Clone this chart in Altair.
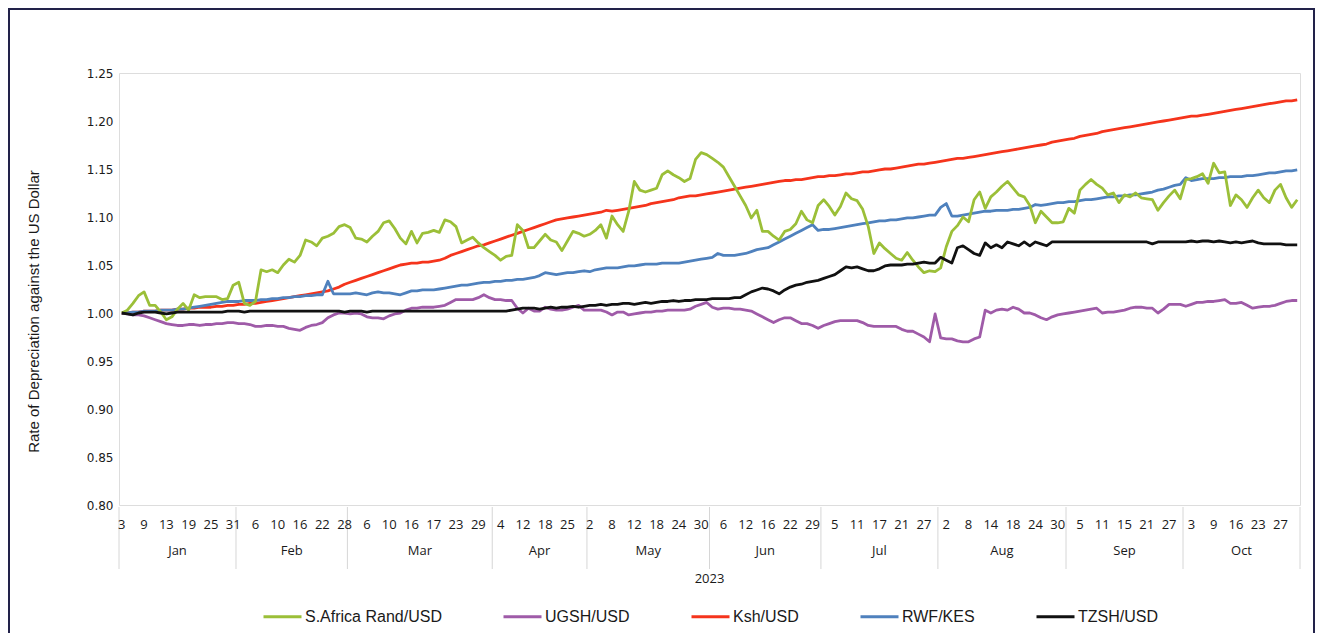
import altair as alt
import pandas as pd

series_names = ["S.Africa Rand/USD", "UGSH/USD", "Ksh/USD", "RWF/KES", "TZSH/USD"]
series_colors = ["#9bbf38", "#9f5ba8", "#f5341c", "#4f81bd", "#111111"]
draw_order = ["UGSH/USD", "Ksh/USD", "RWF/KES", "S.Africa Rand/USD", "TZSH/USD"]

day_labels = ['3', '9', '13', '19', '25', '31', '6', '10', '16', '22', '28', '6', '10', '16', '17', '23', '29',
              '4', '12', '18', '25', '2', '8', '12', '18', '24', '30', '6', '12', '16', '22', '29',
              '5', '11', '17', '21', '27', '2', '8', '14', '18', '24', '30', '5', '11', '15', '21', '27',
              '3', '9', '16', '23', '27']
day_label_idx = [i * 4 for i in range(len(day_labels))]
month_names = ["Jan", "Feb", "Mar", "Apr", "May", "Jun", "Jul", "Aug", "Sep", "Oct"]
month_start_idx = [0, 21, 41, 67, 84, 106, 126, 147, 170, 191]
month_end_idx = [20, 40, 66, 83, 105, 125, 146, 169, 190, 211]
year_label = "2023"
y_ticks = [0.80, 0.85, 0.90, 0.95, 1.00, 1.05, 1.10, 1.15, 1.20, 1.25]

rand_usd = [
    1.000, 1.003, 1.010, 1.018, 1.022, 1.008, 1.008, 1.001, 0.993, 0.996,
    1.004, 1.010, 1.003, 1.019, 1.016, 1.017, 1.017, 1.017, 1.014, 1.015,
    1.029, 1.032, 1.010, 1.008, 1.012, 1.045, 1.043, 1.045, 1.042, 1.050,
    1.056, 1.053, 1.060, 1.076, 1.074, 1.070, 1.078, 1.080, 1.083, 1.090,
    1.092, 1.089, 1.078, 1.077, 1.074, 1.080, 1.085, 1.094, 1.096, 1.088,
    1.078, 1.072, 1.085, 1.073, 1.083, 1.084, 1.086, 1.084, 1.097, 1.095,
    1.090, 1.073, 1.076, 1.079, 1.073, 1.068, 1.064, 1.060, 1.055, 1.059,
    1.060, 1.092, 1.086, 1.068, 1.068, 1.075, 1.082, 1.076, 1.074, 1.065,
    1.075, 1.085, 1.083, 1.080, 1.082, 1.086, 1.092, 1.078, 1.101, 1.092,
    1.085, 1.106, 1.137, 1.128, 1.126, 1.128, 1.130, 1.144, 1.148, 1.144,
    1.141, 1.137, 1.140, 1.160, 1.167, 1.165, 1.161, 1.157, 1.152, 1.142,
    1.132, 1.122, 1.112, 1.099, 1.107, 1.085, 1.085, 1.080, 1.076, 1.085,
    1.087, 1.093, 1.106, 1.097, 1.094, 1.112, 1.118, 1.111, 1.102, 1.111,
    1.125, 1.119, 1.117, 1.108, 1.090, 1.062, 1.073, 1.067, 1.062, 1.057,
    1.055, 1.063, 1.055, 1.048, 1.042, 1.044, 1.043, 1.047, 1.069, 1.085,
    1.091, 1.100, 1.095, 1.118, 1.126, 1.109, 1.121, 1.126, 1.132, 1.137,
    1.130, 1.123, 1.121, 1.112, 1.094, 1.106, 1.100, 1.094, 1.094, 1.095,
    1.109, 1.104, 1.128, 1.134, 1.139, 1.134, 1.130, 1.123, 1.125, 1.115,
    1.123, 1.121, 1.125, 1.120, 1.119, 1.118, 1.107, 1.115, 1.122, 1.128,
    1.119, 1.139, 1.140, 1.142, 1.145, 1.135, 1.156, 1.146, 1.147, 1.112,
    1.123, 1.118, 1.110, 1.120, 1.128, 1.120, 1.115, 1.128, 1.134, 1.120,
    1.110, 1.118]

ugsh_usd = [
    1.000, 0.999, 0.998, 0.998, 0.997, 0.995, 0.993, 0.991, 0.989, 0.988,
    0.987, 0.987, 0.988, 0.988, 0.987, 0.988, 0.988, 0.989, 0.989, 0.990,
    0.990, 0.989, 0.989, 0.988, 0.986, 0.986, 0.987, 0.987, 0.986, 0.986,
    0.984, 0.983, 0.982, 0.985, 0.987, 0.988, 0.990, 0.995, 0.998, 1.000,
    1.000, 0.999, 1.000, 0.999, 0.996, 0.995, 0.995, 0.994, 0.997, 0.999,
    1.000, 1.003, 1.005, 1.005, 1.006, 1.006, 1.006, 1.007, 1.008, 1.011,
    1.014, 1.014, 1.014, 1.014, 1.016, 1.019, 1.016, 1.014, 1.014, 1.013,
    1.013, 1.005, 1.000, 1.005, 1.002, 1.002, 1.006, 1.004, 1.003, 1.003,
    1.004, 1.006, 1.008, 1.003, 1.003, 1.003, 1.003, 1.001, 0.998, 1.001,
    1.001, 0.998, 0.999, 1.000, 1.001, 1.001, 1.002, 1.002, 1.003, 1.003,
    1.003, 1.003, 1.004, 1.007, 1.009, 1.011, 1.006, 1.004, 1.005, 1.005,
    1.004, 1.004, 1.003, 1.002, 0.999, 0.996, 0.993, 0.990, 0.993, 0.995,
    0.995, 0.992, 0.989, 0.989, 0.987, 0.984, 0.987, 0.989, 0.991, 0.992,
    0.992, 0.992, 0.992, 0.990, 0.987, 0.986, 0.986, 0.986, 0.986, 0.986,
    0.983, 0.981, 0.981, 0.978, 0.975, 0.970, 0.999, 0.974, 0.973, 0.973,
    0.971, 0.970, 0.970, 0.973, 0.975, 1.003, 1.000, 1.003, 1.004, 1.003,
    1.006, 1.004, 1.000, 1.000, 0.998, 0.995, 0.993, 0.996, 0.998, 0.999,
    1.000, 1.001, 1.002, 1.003, 1.004, 1.005, 1.000, 1.001, 1.001, 1.002,
    1.003, 1.005, 1.006, 1.006, 1.005, 1.005, 1.000, 1.004, 1.009, 1.009,
    1.009, 1.007, 1.009, 1.011, 1.011, 1.012, 1.012, 1.013, 1.014, 1.010,
    1.010, 1.011, 1.008, 1.005, 1.006, 1.007, 1.007, 1.008, 1.010, 1.012,
    1.013, 1.013]

ksh_usd = [
    1.000, 1.000, 1.001, 1.001, 1.002, 1.002, 1.002, 1.003, 1.003, 1.003,
    1.004, 1.004, 1.005, 1.005, 1.006, 1.006, 1.006, 1.007, 1.007, 1.008,
    1.008, 1.009, 1.009, 1.010, 1.010, 1.011, 1.012, 1.013, 1.014, 1.015,
    1.016, 1.017, 1.018, 1.019, 1.020, 1.021, 1.022, 1.023, 1.025, 1.027,
    1.030, 1.032, 1.034, 1.036, 1.038, 1.040, 1.042, 1.044, 1.046, 1.048,
    1.050, 1.051, 1.052, 1.052, 1.053, 1.053, 1.054, 1.055, 1.057, 1.060,
    1.062, 1.064, 1.066, 1.068, 1.070, 1.071, 1.073, 1.075, 1.077, 1.079,
    1.081, 1.083, 1.085, 1.087, 1.089, 1.091, 1.093, 1.095, 1.097, 1.098,
    1.099, 1.100, 1.101, 1.102, 1.103, 1.104, 1.105, 1.107, 1.106, 1.107,
    1.108, 1.109, 1.110, 1.111, 1.112, 1.114, 1.115, 1.116, 1.117, 1.118,
    1.120, 1.121, 1.122, 1.122, 1.123, 1.124, 1.125, 1.126, 1.127, 1.128,
    1.129, 1.130, 1.131, 1.132, 1.133, 1.134, 1.135, 1.136, 1.137, 1.138,
    1.138, 1.139, 1.139, 1.140, 1.141, 1.142, 1.142, 1.143, 1.143, 1.144,
    1.145, 1.145, 1.146, 1.147, 1.147, 1.148, 1.149, 1.150, 1.150, 1.151,
    1.152, 1.153, 1.154, 1.155, 1.155, 1.156, 1.157, 1.158, 1.159, 1.160,
    1.161, 1.161, 1.162, 1.163, 1.164, 1.165, 1.166, 1.167, 1.168, 1.169,
    1.170, 1.171, 1.172, 1.173, 1.174, 1.175, 1.176, 1.178, 1.179, 1.180,
    1.181, 1.182, 1.184, 1.185, 1.186, 1.187, 1.189, 1.190, 1.191, 1.192,
    1.193, 1.194, 1.195, 1.196, 1.197, 1.198, 1.199, 1.200, 1.201, 1.202,
    1.203, 1.204, 1.205, 1.205, 1.206, 1.207, 1.208, 1.209, 1.210, 1.211,
    1.212, 1.213, 1.214, 1.215, 1.216, 1.217, 1.218, 1.219, 1.220, 1.221,
    1.221, 1.222]

rwf_kes = [
    1.000, 1.000, 1.001, 1.001, 1.002, 1.002, 1.002, 1.003, 1.003, 1.003,
    1.004, 1.004, 1.005, 1.006, 1.007, 1.008, 1.009, 1.010, 1.011, 1.012,
    1.012, 1.012, 1.013, 1.013, 1.013, 1.014, 1.014, 1.015, 1.015, 1.016,
    1.016, 1.017, 1.017, 1.018, 1.018, 1.019, 1.019, 1.033, 1.020, 1.020,
    1.020, 1.020, 1.021, 1.020, 1.019, 1.021, 1.022, 1.021, 1.021, 1.020,
    1.019, 1.021, 1.023, 1.023, 1.024, 1.024, 1.024, 1.025, 1.026, 1.027,
    1.028, 1.029, 1.029, 1.030, 1.031, 1.032, 1.032, 1.033, 1.033, 1.034,
    1.034, 1.035, 1.035, 1.036, 1.037, 1.039, 1.042, 1.041, 1.040, 1.041,
    1.042, 1.042, 1.043, 1.044, 1.043, 1.045, 1.046, 1.047, 1.047, 1.047,
    1.048, 1.049, 1.049, 1.050, 1.051, 1.051, 1.051, 1.052, 1.052, 1.052,
    1.052, 1.053, 1.054, 1.055, 1.056, 1.057, 1.058, 1.062, 1.060, 1.060,
    1.060, 1.061, 1.062, 1.064, 1.066, 1.067, 1.068, 1.071, 1.074, 1.077,
    1.080, 1.083, 1.086, 1.089, 1.092, 1.086, 1.087, 1.087, 1.088, 1.089,
    1.090, 1.091, 1.092, 1.093, 1.094, 1.095, 1.096, 1.096, 1.097, 1.097,
    1.098, 1.099, 1.099, 1.100, 1.101, 1.102, 1.102, 1.110, 1.114, 1.101,
    1.101, 1.102, 1.103, 1.104, 1.105, 1.106, 1.106, 1.107, 1.107, 1.107,
    1.108, 1.108, 1.109, 1.110, 1.113, 1.112, 1.113, 1.114, 1.115, 1.115,
    1.116, 1.116, 1.117, 1.118, 1.118, 1.119, 1.120, 1.121, 1.121, 1.122,
    1.122, 1.123, 1.123, 1.124, 1.125, 1.126, 1.128, 1.129, 1.131, 1.133,
    1.134, 1.141, 1.138, 1.139, 1.140, 1.140, 1.140, 1.141, 1.141, 1.142,
    1.142, 1.142, 1.143, 1.143, 1.144, 1.145, 1.146, 1.146, 1.147, 1.148,
    1.148, 1.149]

tzsh_usd = [
    1.000, 0.999, 0.998, 1.000, 1.001, 1.001, 1.001, 1.000, 0.999, 1.000,
    1.001, 1.001, 1.001, 1.001, 1.001, 1.001, 1.001, 1.001, 1.001, 1.002,
    1.002, 1.002, 1.001, 1.002, 1.002, 1.002, 1.002, 1.002, 1.002, 1.002,
    1.002, 1.002, 1.002, 1.002, 1.002, 1.002, 1.002, 1.002, 1.002, 1.002,
    1.001, 1.002, 1.002, 1.002, 1.001, 1.002, 1.002, 1.002, 1.002, 1.002,
    1.002, 1.002, 1.002, 1.002, 1.002, 1.002, 1.002, 1.002, 1.002, 1.002,
    1.002, 1.002, 1.002, 1.002, 1.002, 1.002, 1.002, 1.002, 1.002, 1.002,
    1.003, 1.004, 1.005, 1.005, 1.005, 1.004, 1.005, 1.006, 1.005, 1.006,
    1.006, 1.007, 1.006, 1.007, 1.008, 1.008, 1.009, 1.008, 1.009, 1.009,
    1.010, 1.010, 1.009, 1.010, 1.011, 1.010, 1.011, 1.012, 1.012, 1.013,
    1.012, 1.013, 1.013, 1.014, 1.014, 1.014, 1.015, 1.015, 1.015, 1.015,
    1.016, 1.016, 1.019, 1.022, 1.024, 1.026, 1.025, 1.023, 1.020, 1.024,
    1.027, 1.029, 1.030, 1.032, 1.033, 1.034, 1.036, 1.038, 1.040, 1.044,
    1.048, 1.047, 1.048, 1.046, 1.044, 1.044, 1.046, 1.049, 1.050, 1.050,
    1.050, 1.051, 1.051, 1.052, 1.053, 1.052, 1.052, 1.058, 1.055, 1.052,
    1.068, 1.070, 1.066, 1.062, 1.060, 1.073, 1.068, 1.071, 1.068, 1.074,
    1.072, 1.070, 1.074, 1.070, 1.074, 1.072, 1.070, 1.074, 1.074, 1.074,
    1.074, 1.074, 1.074, 1.074, 1.074, 1.074, 1.074, 1.074, 1.074, 1.074,
    1.074, 1.074, 1.074, 1.074, 1.074, 1.072, 1.074, 1.074, 1.074, 1.074,
    1.074, 1.074, 1.075, 1.074, 1.075, 1.075, 1.074, 1.075, 1.074, 1.073,
    1.074, 1.073, 1.074, 1.075, 1.073, 1.072, 1.072, 1.072, 1.072, 1.071,
    1.071, 1.071]

all_series = [rand_usd, ugsh_usd, ksh_usd, rwf_kes, tzsh_usd]

# ---- tables ----
rows = []
for name in draw_order:
    vals = all_series[series_names.index(name)]
    for i, v in enumerate(vals):
        rows.append({"idx": i, "value": v, "series": name})
df = pd.DataFrame(rows)

n_points = len(rand_usd)
days_df = pd.DataFrame({"idx": day_label_idx, "label": day_labels})
months_df = pd.DataFrame({
    "month": month_names,
    "mid": [(s + e) / 2 for s, e in zip(month_start_idx, month_end_idx)],
})
bounds_df = pd.DataFrame({"b": [month_start_idx[0] - 0.5] + [e + 0.5 for e in month_end_idx]})

W, H = 1181, 432
PAD_L, PAD_T, PAD_R, PAD_B = 111, 65, 16, 128
x_scale = alt.Scale(domain=[-0.5, n_points - 0.5], nice=False, zero=False)
y_scale = alt.Scale(domain=[0.80, 1.25], nice=False, zero=False)
color_scale = alt.Scale(domain=series_names, range=series_colors)

legend = alt.Legend(title=None, orient="none", legendX=143, legendY=523,
                    direction="horizontal", symbolType="stroke",
                    symbolSize=1444, symbolStrokeWidth=3,
                    labelFont="Liberation Sans", labelFontSize=16,
                    labelColor="#1a1a1a", labelOffset=2, columnPadding=55)

y_axis = alt.Axis(values=y_ticks, format=".2f", grid=False, ticks=False, domain=False,
                  labelFont="DejaVu Sans", labelFontSize=12, labelColor="#1a1a1a",
                  labelPadding=6,
                  title="Rate of Depreciation against the US Dollar",
                  titleFont="Liberation Sans", titleFontSize=15,
                  titleFontWeight="normal", titleColor="#1a1a1a",
                  titleAngle=-90, titleX=-86, titleY=238,
                  titleAlign="center", titleBaseline="middle")

lines = alt.Chart(df).mark_line(strokeWidth=2.8, strokeJoin="round").encode(
    x=alt.X("idx:Q", scale=x_scale, axis=None),
    y=alt.Y("value:Q", scale=y_scale, axis=y_axis),
    color=alt.Color("series:N", scale=color_scale, legend=legend),
)

day_text = alt.Chart(days_df).mark_text(
    font="Open Sans", fontSize=13, color="#1a1a1a", baseline="middle"
).encode(
    x=alt.X("idx:Q", scale=x_scale, axis=None),
    y=alt.value(H + 20),
    text="label:N",
)

seps = alt.Chart(bounds_df).mark_rule(color="#d6d6d6", strokeWidth=1).encode(
    x=alt.X("b:Q", scale=x_scale, axis=None),
    y=alt.value(H + 2),
    y2=alt.value(H + 64),
)

month_text = alt.Chart(months_df).mark_text(
    font="Open Sans", fontSize=13, color="#1a1a1a", baseline="middle"
).encode(
    x=alt.X("mid:Q", scale=x_scale, axis=None),
    y=alt.value(H + 46),
    text="month:N",
)

year_text = alt.Chart(pd.DataFrame({"t": [year_label]})).mark_text(
    font="Open Sans", fontSize=13, color="#1a1a1a", baseline="middle"
).encode(
    x=alt.value(W / 2),
    y=alt.value(H + 74),
    text="t:N",
)

total_w = PAD_L + W + PAD_R
frame = alt.Chart(pd.DataFrame({"a": [0]})).mark_rect(
    fillOpacity=0, stroke="#22224a", strokeWidth=2
).encode(
    x=alt.value(-PAD_L + 1), x2=alt.value(total_w - PAD_L - 2),
    y=alt.value(-PAD_T + 1), y2=alt.value(700)
)

chart = alt.layer(frame, seps, day_text, month_text, year_text, lines).properties(
    width=W, height=H,
    autosize=alt.AutoSizeParams(type="none"),
    padding={"left": PAD_L, "top": PAD_T, "right": PAD_R, "bottom": PAD_B},
).configure_view(strokeWidth=0).configure(background="white")

chart.save("out.html", embed_options={"renderer": "svg", "actions": False})
